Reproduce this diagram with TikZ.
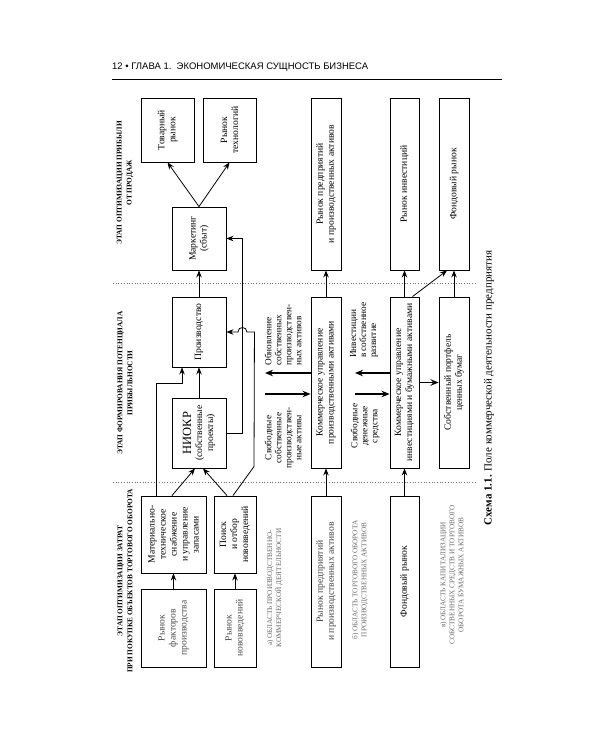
\documentclass[tikz,border=0pt]{standalone}
\usepackage{fontspec}
\setmainfont{Liberation Serif}
\newfontfamily\hdrfont{Liberation Sans}
\usetikzlibrary{arrows.meta}
\tikzset{
  box/.style={draw, line width=0.9pt, rotate=90, align=center, inner sep=1pt,
    font=\fontsize{9.6}{11}\selectfont},
  arr/.style={-{Stealth[length=7pt,width=5.5pt]}, line width=0.8pt},
  bigarr/.style={-{Stealth[length=8pt,width=6.5pt]}, line width=1.6pt},
  lbl/.style={rotate=90, inner sep=0pt, font=\fontsize{9.3}{10}\selectfont},
  stage/.style={rotate=90, inner sep=0pt, align=center, font=\bfseries\fontsize{7.3}{10}\selectfont},
  area/.style={rotate=90, inner sep=0pt, align=center, text=black!60, font=\fontsize{7.2}{9}\selectfont},
  sep/.style={dotted, line width=0.7pt, black!55}
}
\begin{document}
\begin{tikzpicture}[x=1pt,y=-1pt]
\useasboundingbox[fill=white] (0,0) rectangle (600,750);

% page header
\node[anchor=base west, inner sep=0pt, font=\hdrfont\fontsize{9.5}{11}\selectfont] (hdr) at (112,69)
  {12 \textbullet\ ГЛАВА 1.\ \ ЭКОНОМИЧЕСКАЯ СУЩНОСТЬ БИЗНЕСА};
\draw[line width=0.6pt] (112,79) -- (502,79);

% stage headers
\node[stage] (st3) at (125,183) {ЭТАП ОПТИМИЗАЦИИ ПРИБЫЛИ\\ОТ ПРОДАЖ};
\node[stage] (st2) at (125,383) {ЭТАП ФОРМИРОВАНИЯ ПОТЕНЦИАЛА\\ПРИБЫЛЬНОСТИ};
\node[stage] (st1) at (125,581) {ЭТАП ОПТИМИЗАЦИИ ЗАТРАТ\\ПРИ ПОКУПКЕ ОБЪЕКТОВ ТОРГОВОГО ОБОРОТА};

% stage separators
\draw[sep] (113,283) -- (475,283);
\draw[sep] (113,482) -- (475,482);

% column a
\node[box, minimum width=64pt, minimum height=53pt] (tov) at (167.5,130) {Товарный\\рынок};
\node[box, minimum width=64pt, minimum height=53pt] (tech) at (229.5,130) {Рынок\\технологий};
\node[box, minimum width=63pt, minimum height=54pt] (mkt) at (199,238.5) {Маркетинг\\(сбыт)};
\node[box, minimum width=70pt, minimum height=54pt] (prod) at (199,332) {Производство};
\node[box, minimum width=70pt, minimum height=54pt] (niokr) at (199,433)
  {{\fontsize{12.5}{13.5}\selectfont НИОКР}\\(собственные\\проекты)};
\node[box, minimum width=77pt, minimum height=65pt] (mat) at (173.5,534.5)
  {Материально-\\техническое\\снабжение\\и управление\\запасами};
\node[box, minimum width=77pt, minimum height=42pt] (poisk) at (235,534.5)
  {Поиск\\и отбор\\нововведений};
\node[box, minimum width=78pt, minimum height=65pt, text=black!70] (rfak) at (173.5,628)
  {Рынок\\факторов\\производства};
\node[box, minimum width=78pt, minimum height=42pt, text=black!70] (rnov) at (235,628)
  {Рынок\\нововведений};

% columns b and c
\node[box, minimum width=172pt, minimum height=30pt] (rpa3) at (326,184)
  {Рынок предприятий\\и производственных активов};
\node[box, minimum width=172pt, minimum height=29pt] (rinv) at (404.5,184) {Рынок инвестиций};
\node[box, minimum width=172pt, minimum height=30pt] (fond3) at (454,184) {Фондовый рынок};
\node[box, minimum width=171pt, minimum height=30pt] (kupa) at (326,382.5)
  {Коммерческое управление\\производственными активами};
\node[box, minimum width=171pt, minimum height=29pt] (kuib) at (404.5,382.5)
  {Коммерческое управление\\инвестициями и бумажными активами};
\node[box, minimum width=171pt, minimum height=30pt] (port) at (454,382.5)
  {Собственный портфель\\ценных бумаг};
\node[box, minimum width=171pt, minimum height=30pt, text=black!75] (rpa1) at (326,581.5)
  {Рынок предприятий\\и производственных активов};
\node[box, minimum width=171pt, minimum height=29pt] (fond1) at (404.5,581.5) {Фондовый рынок};

% side labels
\node[lbl, align=left] (lobn) at (283,335)
  {Обновление\\собственных\\производствен-\\ных активов};
\node[lbl, align=center] (lsvA) at (283,438)
  {Свободные\\собственные\\производствен-\\ные активы};
\node[lbl, align=left] (linv) at (364,330)
  {Инвестиции\\в собственное\\развитие};
\node[lbl, align=center] (lsvB) at (365,426)
  {Свободные\\денежные\\средства};

% area labels
\node[area] (ara) at (275,588) {а) ОБЛАСТЬ ПРОИЗВОДСТВЕННО-\\КОММЕРЧЕСКОЙ ДЕЯТЕЛЬНОСТИ};
\node[area] (arb) at (360,580) {б) ОБЛАСТЬ ТОРГОВОГО ОБОРОТА\\ПРОИЗВОДСТВЕННЫХ АКТИВОВ};
\node[area] (arc) at (452,575) {в) ОБЛАСТЬ КАПИТАЛИЗАЦИИ\\СОБСТВЕННЫХ СРЕДСТВ И ТОРГОВОГО\\ОБОРОТА БУМАЖНЫХ АКТИВОВ};

% caption
\node[rotate=90, inner sep=0pt, font=\fontsize{11}{12}\selectfont] (cap) at (489,388)
  {\textbf{Схема 1.1.} Поле коммерческой деятельности предприятия};

% connectors, column a
\draw[arr] (mkt.east) -- (tov.west);
\draw[arr] (mkt.east) -- (tech.west);
\draw[arr] (prod.east) -- (mkt.west);
\draw[arr] (niokr.east) -- (prod.west);
\draw[arr] (rfak.east) -- (mat.west);
\draw[arr] (rnov.east) -- (poisk.west);
\draw[arr] ([xshift=-1.5pt]mat.east) -- ([xshift=-4pt]niokr.west);
\draw[arr] ([xshift=-8pt]poisk.east) -- ([xshift=4pt]niokr.west);
\draw[arr] ([xshift=-17.5pt]mat.east) |- ([xshift=-17pt,yshift=-16pt]prod.west) -- ([xshift=-17pt]prod.west);
\draw[arr] (niokr.south) -| ([xshift=16pt]mkt.south) -- (mkt.south);
\coordinate (jb) at ([xshift=28pt]prod.south);
\draw[arr] ([xshift=-2pt]poisk.east) -- ([xshift=19pt,yshift=29pt]poisk.east) -- (jb)
  -- ([xshift=20.5pt]prod.south)
  .. controls ([xshift=20.5pt,yshift=6pt]prod.south) and ([xshift=11.5pt,yshift=6pt]prod.south) ..
  ([xshift=11.5pt]prod.south) -- (prod.south);

% connectors, columns b and c
\draw[arr] (rpa1.east) -- (kupa.west);
\draw[arr] (kupa.east) -- (rpa3.west);
\draw[arr] (fond1.east) -- (kuib.west);
\draw[arr] (kuib.east) -- (rinv.west);
\draw[arr] (port.east) -- (fond3.west);
\draw[arr] ([xshift=8pt]kuib.east) -- ([xshift=-7pt]fond3.west);
\draw[bigarr] (kuib.south) -- (port.north);

\coordinate (obnE) at (265,373);
\coordinate (svAs) at (265,394);
\coordinate (invE) at (355,373);
\coordinate (svBs) at (355,394);
\draw[bigarr] ([yshift=9.5pt]kupa.north) -- (obnE);
\draw[bigarr] (svAs) -- ([yshift=-11.5pt]kupa.north);
\draw[bigarr] ([yshift=9.5pt]kuib.north) -- (invE);
\draw[bigarr] (svBs) -- ([yshift=-11.5pt]kuib.north);
\end{tikzpicture}
\end{document}
